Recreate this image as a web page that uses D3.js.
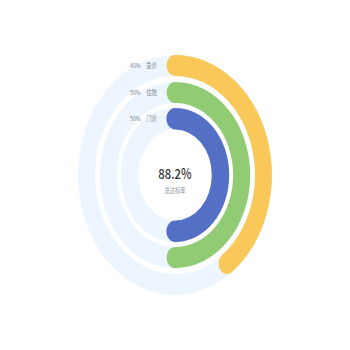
<!DOCTYPE html>
<html>
<head>
<meta charset="utf-8">
<script src="https://cdn.jsdelivr.net/npm/d3@7/dist/d3.min.js"></script>
<style>
  html, body { margin: 0; padding: 0; background: #fff; }
  svg { display: block; font-family: "Noto Sans CJK SC", "Noto Sans", sans-serif; }
</style>
</head>
<body>
<svg id="chart" width="350" height="350"></svg>
<script>
// Ring categories, outer to inner
const categories = ["急诊", "住院", "门诊"];
const rates = [40, 50, 50];
const ringColors = ["#fac858", "#91cc75", "#5470c6"];
const totalRate = 88.2;
const totalLabel = "总达标率";

const cx = 175, cy = 175;
const xStretch = 0.808;

// Radial bands (outer, inner) for each ring
const bands = [[120, 99], [93, 72], [67, 45.5]];

const svg = d3.select("#chart");

const angle = d3.scaleLinear().domain([0, 100]).range([0, 2 * Math.PI]);

// Whole chart is drawn in a horizontally squeezed frame
const g = svg.append("g")
  .attr("transform", `translate(${cx},${cy}) scale(${xStretch},1)`);

// Light background tracks
g.selectAll("path.track")
  .data(bands)
  .join("path")
  .attr("class", "track")
  .attr("fill", "#edf5fe")
  .attr("d", d => d3.arc()({ innerRadius: d[1], outerRadius: d[0], startAngle: 0, endAngle: 2 * Math.PI }));

// Value arcs; round caps extend past both ends of the value angle
g.selectAll("path.value")
  .data(rates)
  .join("path")
  .attr("class", "value")
  .attr("fill", (d, i) => ringColors[i])
  .attr("d", (d, i) => {
    const [ro, ri] = bands[i];
    const half = (ro - ri) / 2;
    const cap = half / ((ro + ri) / 2);
    return d3.arc()
      .innerRadius(ri)
      .outerRadius(ro)
      .cornerRadius(half)({ startAngle: -cap, endAngle: angle(d) + cap });
  });

// Labels to the left of each arc start
categories.forEach((c, i) => {
  const r = (bands[i][0] + bands[i][1]) / 2;
  const t = g.append("text")
    .attr("x", -22.5)
    .attr("y", -r)
    .attr("dy", "0.35em")
    .attr("text-anchor", "end")
    .attr("font-size", 6.5)
    .attr("fill", "#7f8590");
  t.append("tspan").text(`${rates[i]}%`);
  t.append("tspan").attr("dx", 7).text(c);
});

// Center summary
g.append("text")
  .attr("x", 0)
  .attr("y", 4)
  .attr("text-anchor", "middle")
  .attr("font-size", 14)
  .attr("font-weight", 500)
  .attr("fill", "#333")
  .text(`${totalRate}%`);

g.append("text")
  .attr("x", 0)
  .attr("y", 18)
  .attr("text-anchor", "middle")
  .attr("font-size", 6.5)
  .attr("fill", "#8a8f99")
  .text(totalLabel);
</script>
</body>
</html>
